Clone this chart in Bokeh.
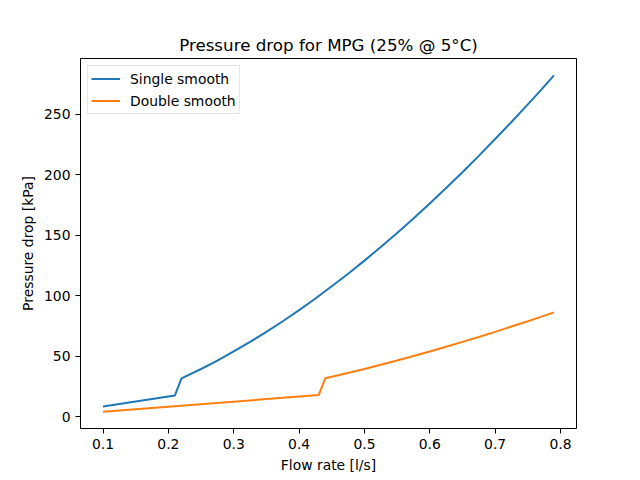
from bokeh.plotting import figure
from bokeh.models import Range1d, FixedTicker, Legend, LegendItem
from bokeh.embed import file_html
from bokeh.resources import INLINE

# Data
flow_single = [0.10, 0.21, 0.22, 0.25, 0.275, 0.30, 0.325, 0.35, 0.375, 0.40, 0.425, 0.45, 0.475,
               0.50, 0.525, 0.55, 0.575, 0.60, 0.625, 0.65, 0.675, 0.70, 0.725, 0.75, 0.77, 0.79]
dp_single = [8.3, 17.5, 31.7, 39.4, 46.4, 53.9, 61.8, 70.1, 78.9, 88.1, 97.7, 107.8, 118.2,
             129.0, 140.3, 151.9, 163.9, 176.2, 189.0, 202.1, 215.6, 229.5, 243.6, 258.2, 270.0, 282.2]

flow_double = [0.10, 0.43, 0.44, 0.46, 0.50, 0.525, 0.55, 0.575, 0.60, 0.625, 0.65, 0.675,
               0.70, 0.725, 0.75, 0.77, 0.79]
dp_double = [4.1, 17.8, 31.7, 34.2, 39.4, 42.9, 46.4, 50.1, 53.9, 57.8, 61.8, 65.9,
             70.1, 74.5, 78.9, 82.5, 86.2]

x_ticks = [0.1, 0.2, 0.3, 0.4, 0.5, 0.6, 0.7, 0.8]
y_ticks = [0, 50, 100, 150, 200, 250]

FONT = "DejaVu Sans"

p = figure(width=632, height=472, output_backend="svg", toolbar_location=None,
           x_range=Range1d(0.0655, 0.8245), y_range=Range1d(-9.8, 296.1),
           frame_width=496, frame_height=370,
           min_border_left=80, min_border_right=56, min_border_top=58, min_border_bottom=44,
           title="Pressure drop for MPG (25% @ 5°C)")
p.background_fill_color = "white"
p.border_fill_color = "white"
p.outline_line_color = "black"
p.outline_line_width = 1
p.xgrid.visible = False
p.ygrid.visible = False

p.title.align = "center"
p.title.text_font = FONT
p.title.text_font_size = "16.7px"
p.title.text_font_style = "normal"
p.title.text_color = "black"
p.title.standoff = 8

for ax in (p.xaxis[0], p.yaxis[0]):
    ax.major_label_text_font = FONT
    ax.major_label_text_font_size = "13.9px"
    ax.major_label_text_color = "black"
    ax.axis_label_text_font = FONT
    ax.axis_label_text_font_size = "13.9px"
    ax.axis_label_text_font_style = "normal"
    ax.axis_label_text_color = "black"
    ax.major_tick_out = 5
    ax.major_tick_in = 0
    ax.minor_tick_out = 0
    ax.minor_tick_in = 0
    ax.axis_line_color = None
    ax.major_tick_line_color = "black"

p.xaxis.axis_label = "Flow rate [l/s]"
p.yaxis.axis_label = "Pressure drop [kPa]"
p.xaxis.ticker = FixedTicker(ticks=x_ticks)
p.yaxis.ticker = FixedTicker(ticks=y_ticks)
p.xaxis.major_label_overrides = {t: f"{t:.1f}" for t in x_ticks}

r1 = p.line(flow_single, dp_single, line_color="#1f77b4", line_width=2)
r2 = p.line(flow_double, dp_double, line_color="#ff7f0e", line_width=2)

legend = Legend(items=[LegendItem(label="Single smooth", renderers=[r1]),
                       LegendItem(label="Double smooth", renderers=[r2])],
                location="top_left")
legend.label_text_font = FONT
legend.label_text_font_size = "13.9px"
legend.label_text_color = "black"
legend.border_line_color = "#cccccc"
legend.border_line_width = 1
legend.background_fill_alpha = 0.8
legend.margin = 7
legend.padding = 3
legend.spacing = 3
legend.glyph_width = 29
legend.label_standoff = 10
legend.label_height = 19
legend.glyph_height = 19
p.add_layout(legend)

open("out.html", "w").write(file_html(p, INLINE))
